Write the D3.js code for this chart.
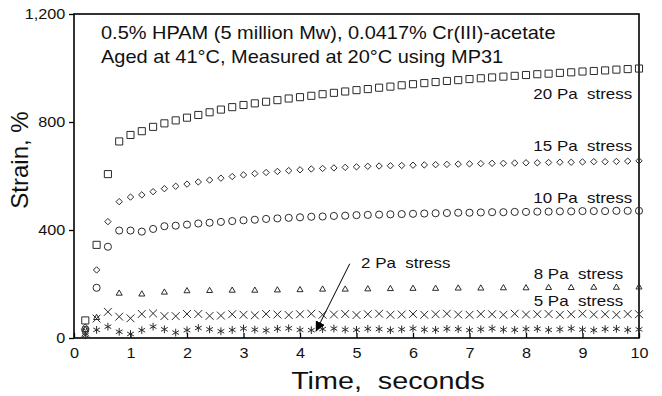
<!DOCTYPE html>
<html>
<head>
<meta charset="utf-8">
<script src="https://cdn.jsdelivr.net/npm/d3@7"></script>
<style>
body { margin: 0; background: #fff; }
text { font-family: "Liberation Sans", Arial, Helvetica, sans-serif; fill: #111; }
</style>
</head>
<body>
<script>
// sampling times (s)
const times = [0.2, 0.4, 0.6, 0.8, 1.0, 1.2, 1.4, 1.6, 1.8, 2.0,
  2.2, 2.4, 2.6, 2.8, 3.0, 3.2, 3.4, 3.6, 3.8, 4.0,
  4.2, 4.4, 4.6, 4.8, 5.0, 5.2, 5.4, 5.6, 5.8, 6.0,
  6.2, 6.4, 6.6, 6.8, 7.0, 7.2, 7.4, 7.6, 7.8, 8.0,
  8.2, 8.4, 8.6, 8.8, 9.0, 9.2, 9.4, 9.6, 9.8, 10.0]
// the 8 Pa run was logged less often
const times8 = [0.2, 0.4, 0.8, 1.2, 1.6, 2.0, 2.4, 2.8, 3.2, 3.6, 4.0, 4.4, 4.8,
  5.2, 5.6, 6.0, 6.4, 6.8, 7.2, 7.6, 8.0, 8.4, 8.8, 9.2, 9.6, 10.0]

// strain, %
const strain20 = [65, 345, 607, 728, 752, 766, 782, 795, 806, 816,
  826, 836, 846, 855, 863, 869, 875, 881, 887, 892,
  897, 903, 908, 913, 918, 922, 927, 931, 936, 940,
  944, 948, 952, 955, 959, 962, 965, 968, 971, 974,
  977, 979, 982, 984, 987, 989, 991, 994, 996, 998]
const strain15 = [40, 252, 431, 505, 522, 530, 542, 553, 562, 570,
  578, 585, 592, 598, 604, 609, 613, 617, 620, 623,
  626, 628, 630, 632, 634, 636, 637, 638, 639, 640,
  641, 642, 643, 644, 645, 646, 647, 647, 648, 649,
  649, 650, 651, 651, 652, 653, 653, 654, 655, 656]
const strain10 = [30, 186, 338, 398, 398, 394, 404, 414, 416, 420,
  424, 427, 430, 433, 436, 438, 441, 443, 445, 447,
  449, 450, 452, 453, 455, 456, 457, 458, 459, 460,
  461, 462, 463, 464, 464, 465, 466, 466, 467, 467,
  468, 468, 469, 469, 470, 470, 470, 471, 471, 471]
const strain8 = [30, 75, 165, 162, 169, 174, 175, 176, 176, 177, 178, 180, 180,
  181, 182, 183, 183, 184, 184, 185, 185, 186, 186, 187, 187, 188]
const strain5 = [20, 72, 97, 79, 73, 89, 91, 81, 81, 89,
  89, 82, 83, 88, 86, 84, 89, 87, 85, 88,
  90, 86, 87, 89, 85, 88, 90, 86, 87, 89,
  86, 88, 90, 87, 86, 89, 88, 86, 90, 87,
  88, 89, 86, 88, 90, 87, 88, 86, 89, 88]
const strain2 = [10, 30, 42, 23, 15, 29, 42, 32, 20, 29,
  37, 32, 25, 30, 35, 31, 28, 34, 36, 30,
  29, 33, 35, 31, 30, 34, 33, 29, 32, 35,
  31, 30, 34, 33, 29, 32, 35, 31, 30, 33,
  34, 30, 32, 35, 31, 29, 33, 34, 30, 32]

const xticks = [0, 1, 2, 3, 4, 5, 6, 7, 8, 9, 10]
const yticks = [0, 400, 800, 1200]

const seriesNames = ['20 Pa  stress', '15 Pa  stress', '10 Pa  stress', '8 Pa  stress', '5 Pa  stress', '2 Pa  stress']
const titleLines = ['0.5% HPAM (5 million Mw), 0.0417% Cr(III)-acetate', 'Aged at 41\u00B0C, Measured at 20\u00B0C using MP31']

const margin = {top: 14, right: 23, bottom: 58, left: 74}
const width = 662 - margin.left - margin.right
const height = 396 - margin.top - margin.bottom

const svg = d3.select('body').append('svg')
  .attr('width', width + margin.left + margin.right)
  .attr('height', height + margin.top + margin.bottom)

const g = svg.append('g').attr('transform', `translate(${margin.left},${margin.top})`)

const x = d3.scaleLinear().domain([0, 10]).range([0, width])
const y = d3.scaleLinear().domain([0, 1200]).range([height, 0])

// text is slightly wide in the original, so stretch it horizontally
function label(sel, px, py, str, size, anchor, sx) {
  return sel.append('text')
    .attr('transform', `translate(${px},${py}) scale(${sx},1)`)
    .attr('text-anchor', anchor)
    .style('font-size', size + 'px')
    .style('white-space', 'pre')
    .text(str)
}

// axes
const g_y = g.append('g')
  .call(d3.axisLeft(y).tickValues(yticks).tickFormat(d3.format(',')).tickSize(5).tickPadding(3))
g_y.select('.domain').remove()
g_y.selectAll('line').attr('stroke', '#000').attr('stroke-width', 1.3)
g_y.selectAll('text').attr('fill', '#111').style('font-size', '15px')
  .attr('font-family', null).attr('transform', 'scale(1.08,1)')

const g_x = g.append('g').attr('transform', `translate(0,${height})`)
  .call(d3.axisBottom(x).tickValues(xticks).tickSize(-5).tickPadding(9))
g_x.select('.domain').remove()
g_x.selectAll('line').attr('stroke', '#000').attr('stroke-width', 1.3)
g_x.selectAll('text').attr('fill', '#111').style('font-size', '15px')
  .attr('font-family', null).attr('transform', 'scale(1.08,1)')

g.append('rect')
  .attr('width', width).attr('height', height)
  .attr('fill', 'none').attr('stroke', '#000').attr('stroke-width', 1.6)

// series
const series = [
  {t: times, v: strain20, type: d3.symbolSquare2, size: 64},
  {t: times, v: strain15, type: d3.symbolDiamond2, size: 26},
  {t: times, v: strain10, type: d3.symbolCircle, size: 40},
  {t: times8, v: strain8, type: d3.symbolTriangle2, size: 26},
  {t: times, v: strain5, type: d3.symbolTimes, size: 42},
  {t: times, v: strain2, type: d3.symbolAsterisk, size: 42}
]

series.forEach((s) => {
  const sym = d3.symbol().type(s.type).size(s.size)
  g.append('g').selectAll('path')
    .data(s.t.map((t, i) => ({t: t, v: s.v[i]})))
    .join('path')
    .attr('transform', (d) => `translate(${x(d.t)},${y(d.v)})`)
    .attr('d', sym)
    .attr('fill', 'none')
    .attr('stroke', '#2a2a2a')
    .attr('stroke-width', 1)
})

// titles and labels
label(g, 27, 25, titleLines[0], 18, 'start', 1.11)
label(g, 27, 49, titleLines[1], 18, 'start', 1.11)

label(g, x(9.88), y(885), seriesNames[0], 15, 'end', 1.13)
label(g, x(9.88), y(694), seriesNames[1], 15, 'end', 1.13)
label(g, x(9.88), y(499), seriesNames[2], 15, 'end', 1.13)
label(g, x(9.72), y(218), seriesNames[3], 15, 'end', 1.13)
label(g, x(9.72), y(118), seriesNames[4], 15, 'end', 1.13)
label(g, x(5.08), y(259), seriesNames[5], 15, 'start', 1.13)

// arrow to the 2 Pa points
const arrowFrom = [4.88, 275]
const arrowTo = [4.28, 24]
svg.append('defs').append('marker')
  .attr('id', 'head').attr('viewBox', '0 0 10 10')
  .attr('refX', 10).attr('refY', 5)
  .attr('markerWidth', 10).attr('markerHeight', 10)
  .attr('markerUnits', 'userSpaceOnUse')
  .attr('orient', 'auto')
  .append('path').attr('d', 'M0,0L10,5L0,10Z').attr('fill', '#000')
g.append('line')
  .attr('x1', x(arrowFrom[0])).attr('y1', y(arrowFrom[1]))
  .attr('x2', x(arrowTo[0])).attr('y2', y(arrowTo[1]))
  .attr('stroke', '#000').attr('stroke-width', 1)
  .attr('marker-end', 'url(#head)')

// axis titles
label(svg, 388, 389, 'Time,  seconds', 23, 'middle', 1.25)
svg.append('text')
  .attr('transform', 'translate(28,160) rotate(-90)')
  .attr('text-anchor', 'middle')
  .style('font-size', '24px')
  .style('white-space', 'pre')
  .text('Strain, %')
</script>
</body>
</html>
